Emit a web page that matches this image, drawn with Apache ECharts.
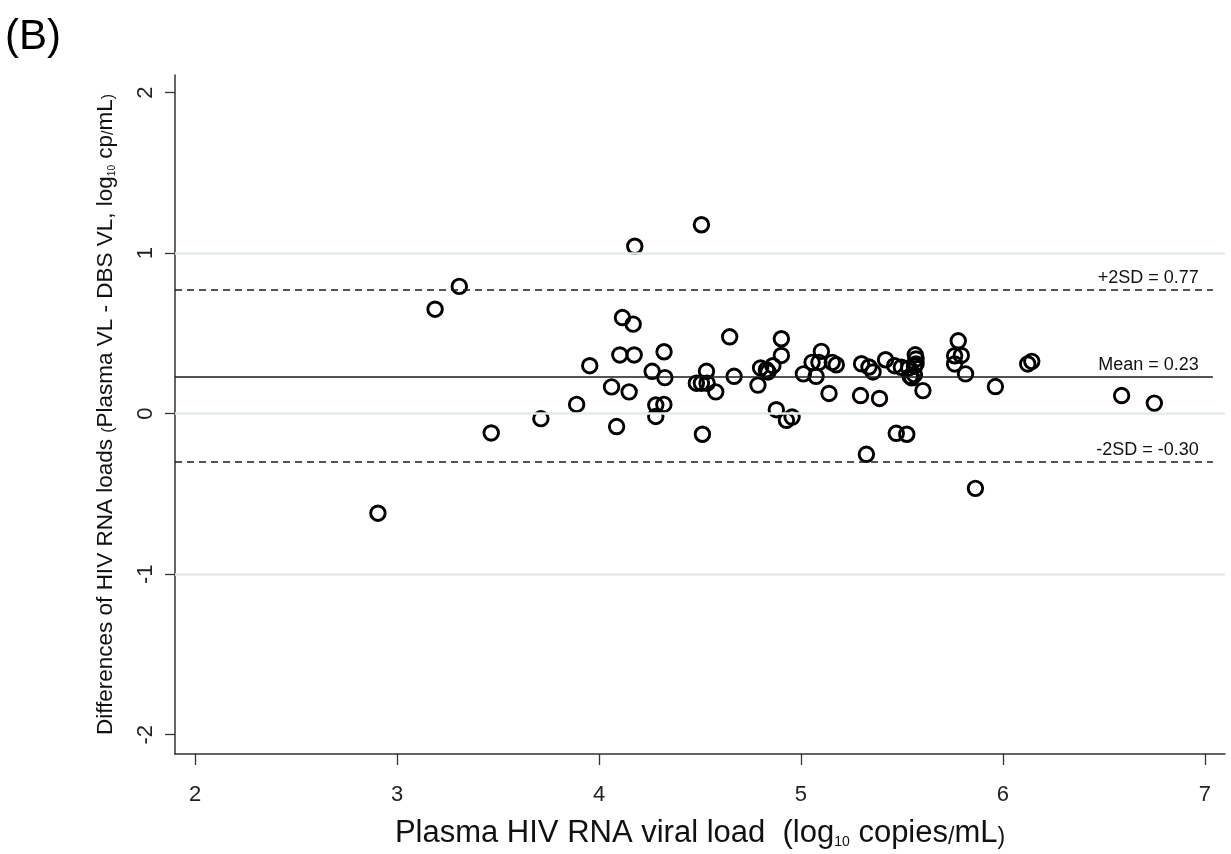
<!DOCTYPE html>
<html>
<head>
<meta charset="utf-8">
<script src="https://cdn.jsdelivr.net/npm/echarts@6/dist/echarts.min.js"></script>
<style>
  html, body { margin: 0; padding: 0; background: #fff; }
  #chart { width: 1231px; height: 854px; }
</style>
</head>
<body>
<div id="chart"></div>
<script>
// Plasma viral load (log10 copies/mL)
const plasmaVL = [
  2.905, 3.188, 3.308, 3.466, 3.712, 3.889, 3.954, 4.062, 4.087, 4.103,
  4.116, 4.149, 4.169, 4.174, 4.177, 4.263, 4.281, 4.281, 4.321, 4.322,
  4.326, 4.482, 4.507, 4.507, 4.512, 4.532, 4.535, 4.578, 4.647, 4.669,
  4.787, 4.800, 4.829, 4.837, 4.861, 4.878, 4.903, 4.903, 4.928, 4.956,
  5.012, 5.055, 5.075, 5.089, 5.101, 5.139, 5.155, 5.175, 5.295, 5.300,
  5.324, 5.337, 5.357, 5.389, 5.419, 5.464, 5.472, 5.497, 5.524, 5.534,
  5.541, 5.549, 5.562, 5.562, 5.566, 5.570, 5.570, 5.604, 5.761, 5.761,
  5.779, 5.794, 5.815, 5.864, 5.963, 6.123, 6.143, 6.588, 6.750
];
// Difference Plasma VL - DBS VL (log10 cp/mL)
const differences = [
  -0.620, 0.651, 0.793, -0.120, -0.031, 0.058, 0.299, 0.167, -0.080, 0.366,
  0.599, 0.136, 0.558, 0.366, 1.043, 0.264, 0.054, -0.017, 0.058, 0.386,
  0.225, 0.190, 1.177, 0.190, -0.128, 0.264, 0.190, 0.136, 0.479, 0.233,
  0.178, 0.285, 0.274, 0.260, 0.299, 0.025, 0.467, 0.363, -0.041, -0.021,
  0.248, 0.320, 0.233, 0.320, 0.388, 0.126, 0.320, 0.305, 0.113, 0.311,
  -0.253, 0.291, 0.260, 0.095, 0.336, 0.299, -0.122, 0.289, -0.128, 0.285,
  0.233, 0.223, 0.243, 0.296, 0.367, 0.341, 0.310, 0.144, 0.361, 0.310,
  0.454, 0.363, 0.248, -0.465, 0.169, 0.310, 0.326, 0.113, 0.066
];
// Reference lines
const refValues = [0.77, 0.23, -0.30];
const refLabels = ['+2SD = 0.77', 'Mean = 0.23', '-2SD = -0.30'];
const refDashed = [true, false, true];
// Axis ticks
const xTicks = [2, 3, 4, 5, 6, 7];
const yTicks = [-2, -1, 0, 1, 2];
const yGridValues = [-1, 0, 1];

const X_MIN = 1.9, X_MAX = 7.1, Y_MIN = -2.12, Y_MAX = 2.11;
const REF_X_END = 7.04;
const FONT = '"Liberation Sans Narrow", "Liberation Sans", Arial, sans-serif';

const points = plasmaVL.map((x, i) => [x, differences[i]]);

const chart = echarts.init(document.getElementById('chart'), null, { renderer: 'canvas' });

const gridLines = yGridValues.map(v => [{ coord: [X_MIN, v] }, { coord: [X_MAX, v] }]);

const refLines = refValues.map((v, i) => [
  {
    coord: [X_MIN, v],
    lineStyle: { type: refDashed[i] ? [7, 5] : 'solid', color: '#1a1a1a', width: 1.7 },
    label: {
      show: true, position: 'insideEndTop', formatter: refLabels[i],
      color: '#111', fontSize: 18, fontFamily: FONT, distance: [14, 3]
    }
  },
  { coord: [REF_X_END, v] }
]);

chart.setOption({
  animation: false,
  backgroundColor: '#fff',
  grid: { left: 175, right: 6, top: 75, bottom: 95, containLabel: false },
  graphic: [{
    type: 'text', left: 5, top: 16,
    style: { text: '(B)', fontSize: 42, fontFamily: '"Liberation Sans", Arial, sans-serif', fill: '#000' }
  }],
  xAxis: {
    type: 'value', min: X_MIN, max: X_MAX,
    axisLine: { show: true, onZero: false, lineStyle: { color: '#333', width: 1.5 } },
    axisTick: { show: true, length: 11, customValues: xTicks, lineStyle: { color: '#333', width: 1.3 } },
    axisLabel: { customValues: xTicks, fontSize: 22, color: '#222', fontFamily: FONT, margin: 30 },
    splitLine: { show: false },
    name: '{m|Plasma HIV RNA viral load  (log}{s|10}{m| copies}{p|/}{m|mL}{p|)}',
    nameLocation: 'middle', nameGap: 60,
    nameTextStyle: {
      rich: {
        m: { fontSize: 31, fontFamily: FONT, color: '#111', verticalAlign: 'bottom', lineHeight: 35 },
        s: { fontSize: 14, fontFamily: FONT, color: '#111', verticalAlign: 'bottom', lineHeight: 25 },
        p: { fontSize: 23, fontFamily: FONT, color: '#111', verticalAlign: 'bottom', lineHeight: 32 }
      }
    }
  },
  yAxis: {
    type: 'value', min: Y_MIN, max: Y_MAX,
    axisLine: { show: true, onZero: false, lineStyle: { color: '#333', width: 1.5 } },
    axisTick: { show: true, length: 10, customValues: yTicks, lineStyle: { color: '#333', width: 1.3 } },
    axisLabel: { customValues: yTicks, fontSize: 22, color: '#222', fontFamily: FONT, rotate: 90, margin: 18 },
    splitLine: { show: false },
    name: '{m|Differences of HIV RNA loads }{p|(}{m|Plasma VL - DBS VL, log}{s|10}{m| cp}{p|/}{m|mL}{p|)}',
    nameLocation: 'middle', nameGap: 58, nameRotate: 90,
    nameTextStyle: {
      rich: {
        m: { fontSize: 22.5, fontFamily: FONT, color: '#111', verticalAlign: 'bottom', lineHeight: 27 },
        s: { fontSize: 10, fontFamily: FONT, color: '#111', verticalAlign: 'bottom', lineHeight: 18 },
        p: { fontSize: 16, fontFamily: FONT, color: '#111', verticalAlign: 'bottom', lineHeight: 24 }
      }
    }
  },
  series: [
    {
      type: 'scatter', data: [], silent: true, z: 1,
      markLine: {
        silent: true, symbol: ['none', 'none'], animation: false,
        lineStyle: { color: '#e3eaee', width: 2.5, type: 'solid' },
        label: { show: false },
        data: gridLines
      }
    },
    {
      type: 'scatter', data: [], silent: true, z: 2,
      markLine: {
        silent: true, symbol: ['none', 'none'], animation: false,
        data: refLines
      }
    },
    {
      type: 'scatter', z: 3,
      data: points,
      symbol: 'circle', symbolSize: 14.5,
      itemStyle: { color: 'rgba(0,0,0,0)', borderColor: '#000', borderWidth: 2.9, opacity: 1 }
    }
  ]
});
</script>
</body>
</html>
